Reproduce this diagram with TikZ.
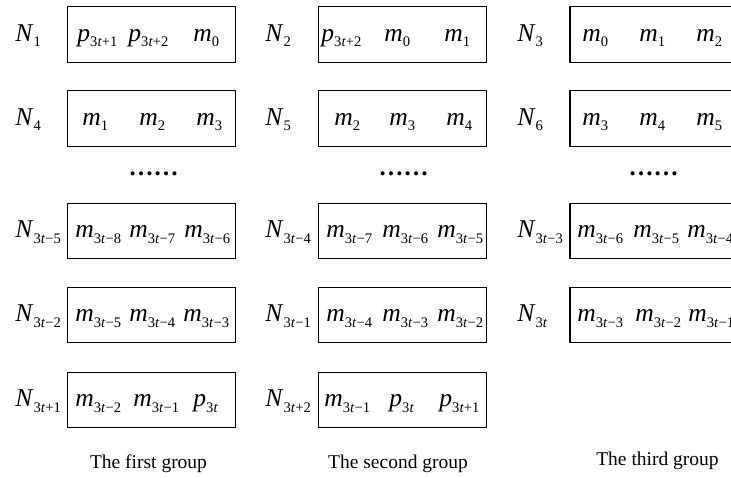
\documentclass[tikz,border=0pt]{standalone}
\usepackage{fontspec}
\setmainfont{Liberation Serif}
\newcommand{\SubT}[1]{\raisebox{-0.22em}{\fontsize{7.3pt}{9pt}\selectfont #1}}
\newcommand{\Vr}[2]{\textit{#1}\SubT{#2}}
\newcommand{\tm}{\textit{t}}
\newcommand{\mi}{−}
\tikzset{
  cell/.style={draw, line width=0.6pt, minimum width=84pt, minimum height=27.75pt, inner sep=0pt},
  entry/.style={anchor=base west, inner sep=0pt, font=\fontsize{12.8pt}{15pt}\selectfont},
  captext/.style={anchor=base, inner sep=0pt, font=\fontsize{9.75pt}{12pt}\selectfont},
  dotrow/.style={anchor=base, inner sep=0pt, font=\fontsize{12.5pt}{15pt}\selectfont\bfseries}
}
\begin{document}
\begin{tikzpicture}[x=0.5pt,y=-0.5pt]
\clip (0,0) rectangle (731,477);
% boxes
\node[cell] (b11) at (151.25,34.5) {};
\node[cell] (b12) at (151.25,118.5) {};
\node[cell] (b13) at (151.25,231) {};
\node[cell] (b14) at (151.25,315) {};
\node[cell] (b15) at (151.25,400) {};
\node[cell] (b21) at (402.5,34.5) {};
\node[cell] (b22) at (402.5,118.5) {};
\node[cell] (b23) at (402.5,231) {};
\node[cell] (b24) at (402.5,315) {};
\node[cell] (b25) at (402.5,400) {};
\node[cell] (b31) at (654,34.5) {};
\node[cell] (b32) at (654,118.5) {};
\node[cell] (b33) at (654,231) {};
\node[cell] (b34) at (654,315) {};
% labels
\node[entry] (n1) at (15,41) {\Vr{N}{1}};
\node[entry] (n4) at (15,125) {\Vr{N}{4}};
\node[entry] (n3t5) at (15,237.5) {\Vr{N}{3\tm\mi5}};
\node[entry] (n3t2) at (15,321.5) {\Vr{N}{3\tm\mi2}};
\node[entry] (n3tp1) at (15,406.5) {\Vr{N}{3\tm+1}};
\node[entry] (n2) at (265,41) {\Vr{N}{2}};
\node[entry] (n5) at (265,125) {\Vr{N}{5}};
\node[entry] (n3t4) at (265,237.5) {\Vr{N}{3\tm\mi4}};
\node[entry] (n3t1) at (265,321.5) {\Vr{N}{3\tm\mi1}};
\node[entry] (n3tp2) at (265,406.5) {\Vr{N}{3\tm+2}};
\node[entry] (n3) at (517,41) {\Vr{N}{3}};
\node[entry] (n6) at (517,125) {\Vr{N}{6}};
\node[entry] (n3t3) at (517,237.5) {\Vr{N}{3\tm\mi3}};
\node[entry] (n3t) at (517,321.5) {\Vr{N}{3\tm}};
% column 1 entries
\node[entry] (e111) at (77,41) {\Vr{p}{3\tm+1}};
\node[entry] (e112) at (128,41) {\Vr{p}{3\tm+2}};
\node[entry] (e113) at (193,41) {\Vr{m}{0}};
\node[entry] (e121) at (82,125) {\Vr{m}{1}};
\node[entry] (e122) at (139,125) {\Vr{m}{2}};
\node[entry] (e123) at (196,125) {\Vr{m}{3}};
\node[entry] (e131) at (75,237.5) {\Vr{m}{3\tm\mi8}};
\node[entry] (e132) at (129,237.5) {\Vr{m}{3\tm\mi7}};
\node[entry] (e133) at (184,237.5) {\Vr{m}{3\tm\mi6}};
\node[entry] (e141) at (75,321.5) {\Vr{m}{3\tm\mi5}};
\node[entry] (e142) at (129,321.5) {\Vr{m}{3\tm\mi4}};
\node[entry] (e143) at (183,321.5) {\Vr{m}{3\tm\mi3}};
\node[entry] (e151) at (75,406.5) {\Vr{m}{3\tm\mi2}};
\node[entry] (e152) at (133,406.5) {\Vr{m}{3\tm\mi1}};
\node[entry] (e153) at (193,406.5) {\Vr{p}{3\tm}};
% column 2 entries
\node[entry] (e211) at (321,41) {\Vr{p}{3\tm+2}};
\node[entry] (e212) at (384,41) {\Vr{m}{0}};
\node[entry] (e213) at (444,41) {\Vr{m}{1}};
\node[entry] (e221) at (334,125) {\Vr{m}{2}};
\node[entry] (e222) at (389,125) {\Vr{m}{3}};
\node[entry] (e223) at (446,125) {\Vr{m}{4}};
\node[entry] (e231) at (326,237.5) {\Vr{m}{3\tm\mi7}};
\node[entry] (e232) at (382,237.5) {\Vr{m}{3\tm\mi6}};
\node[entry] (e233) at (437,237.5) {\Vr{m}{3\tm\mi5}};
\node[entry] (e241) at (326,321.5) {\Vr{m}{3\tm\mi4}};
\node[entry] (e242) at (382,321.5) {\Vr{m}{3\tm\mi3}};
\node[entry] (e243) at (437,321.5) {\Vr{m}{3\tm\mi2}};
\node[entry] (e251) at (324,406.5) {\Vr{m}{3\tm\mi1}};
\node[entry] (e252) at (389,406.5) {\Vr{p}{3\tm}};
\node[entry] (e253) at (439,406.5) {\Vr{p}{3\tm+1}};
% column 3 entries
\node[entry] (e311) at (582,41) {\Vr{m}{0}};
\node[entry] (e312) at (639,41) {\Vr{m}{1}};
\node[entry] (e313) at (696,41) {\Vr{m}{2}};
\node[entry] (e321) at (582,125) {\Vr{m}{3}};
\node[entry] (e322) at (639,125) {\Vr{m}{4}};
\node[entry] (e323) at (696,125) {\Vr{m}{5}};
\node[entry] (e331) at (577,237.5) {\Vr{m}{3\tm\mi6}};
\node[entry] (e332) at (633,237.5) {\Vr{m}{3\tm\mi5}};
\node[entry] (e333) at (687,237.5) {\Vr{m}{3\tm\mi4}};
\node[entry] (e341) at (577,321.5) {\Vr{m}{3\tm\mi3}};
\node[entry] (e342) at (635,321.5) {\Vr{m}{3\tm\mi2}};
\node[entry] (e343) at (688,321.5) {\Vr{m}{3\tm\mi1}};
% dots
\node[dotrow] (d1) at (153.5,175) {……};
\node[dotrow] (d2) at (403.5,175) {……};
\node[dotrow] (d3) at (653.5,175) {……};
% captions
\node[captext] (g1) at (148.5,468) {The first group};
\node[captext] (g2) at (398,468) {The second group};
\node[captext] (g3) at (657.5,465) {The third group};
\end{tikzpicture}
\end{document}
